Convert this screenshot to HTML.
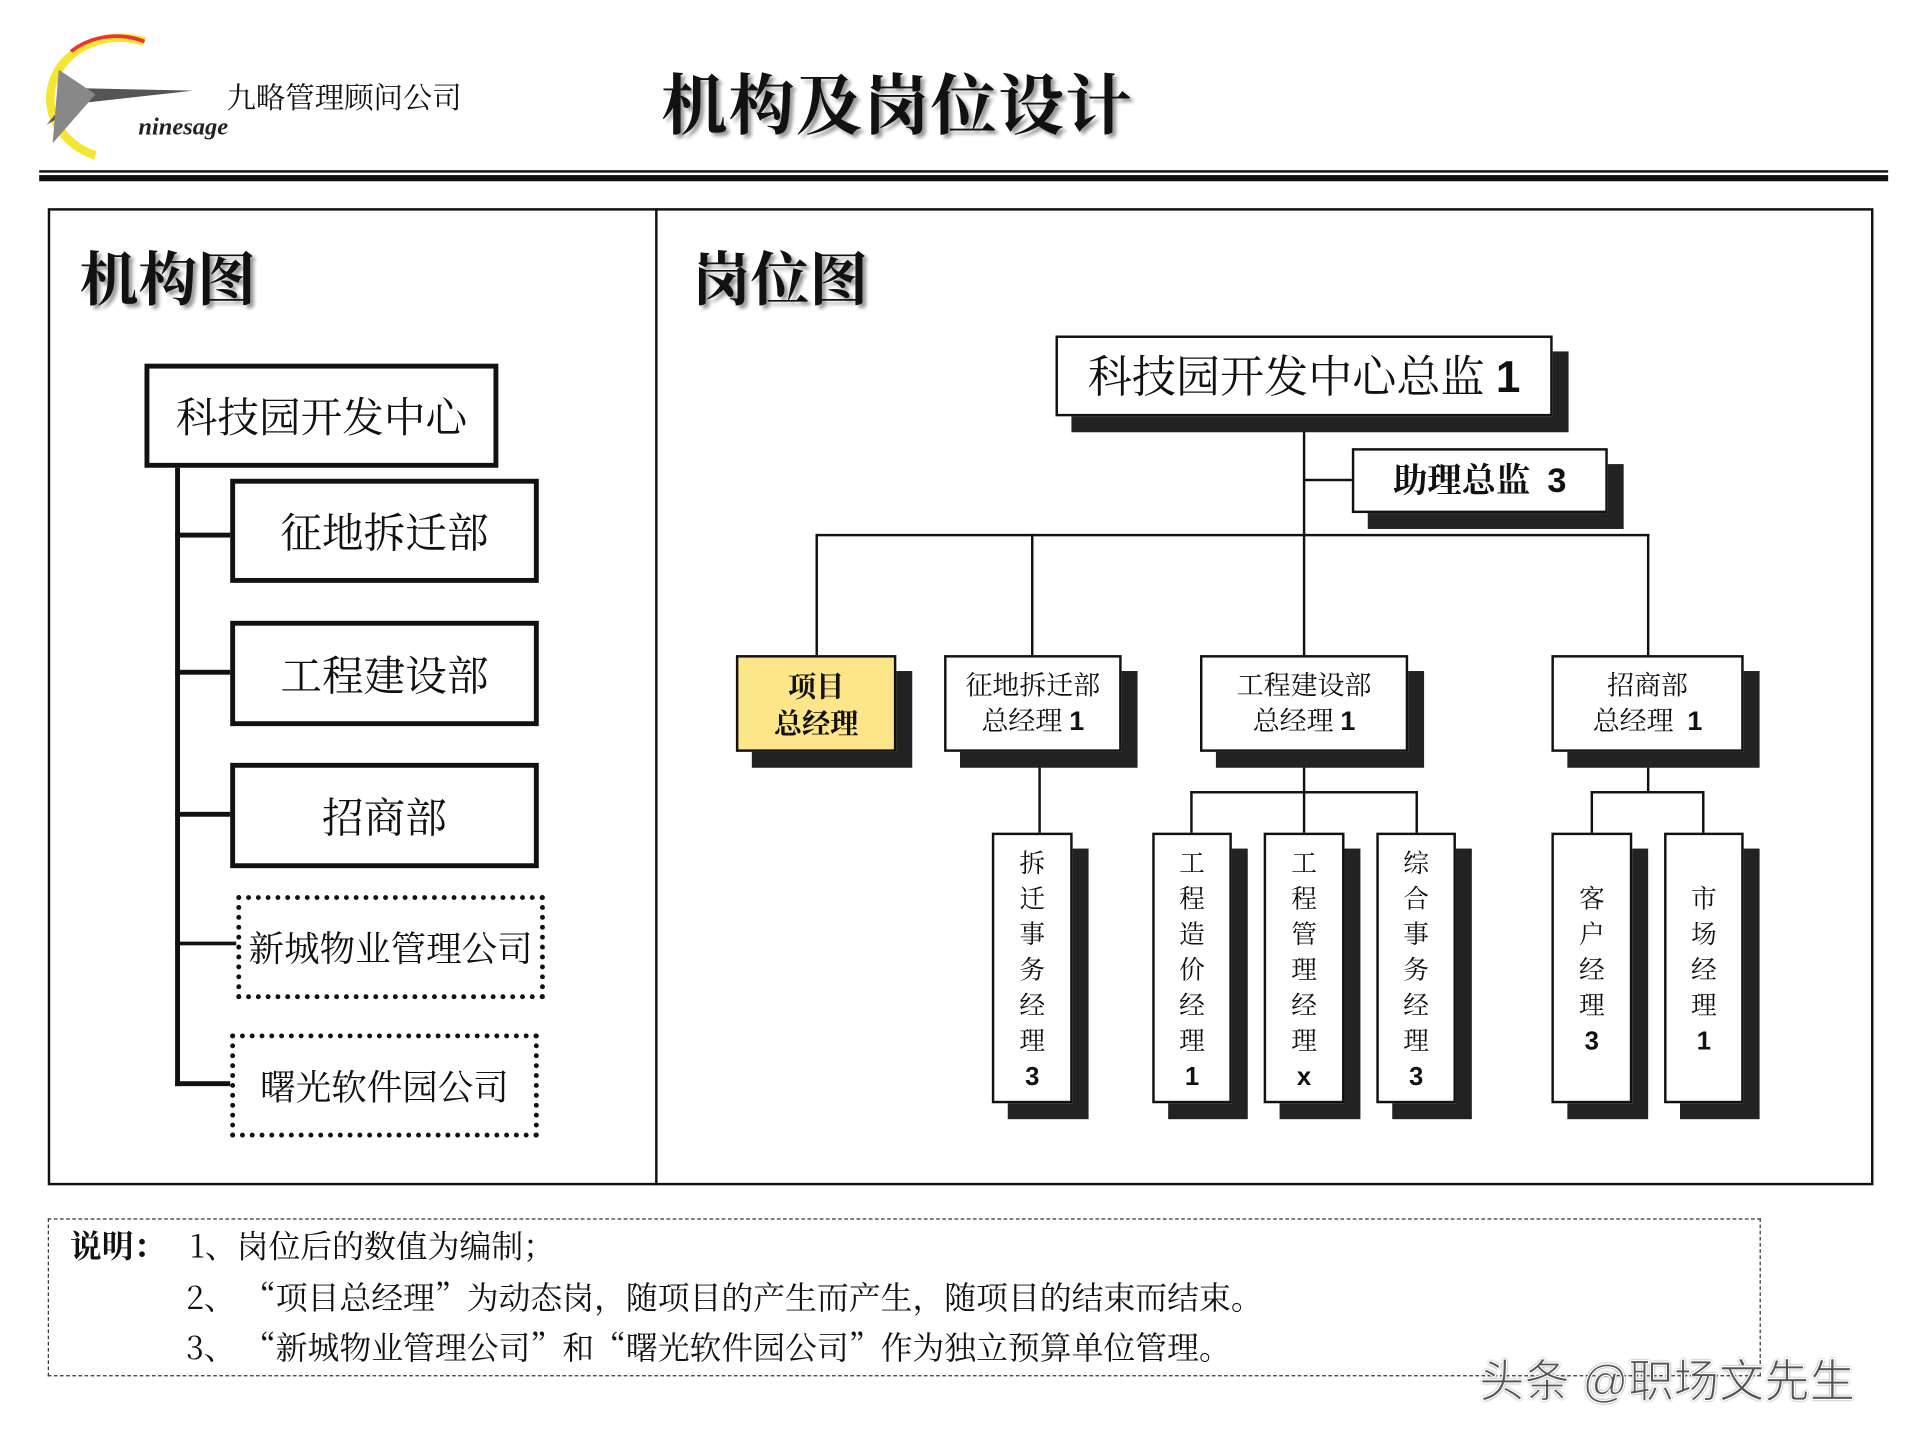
<!DOCTYPE html>
<html><head><meta charset="utf-8"><style>
html,body{margin:0;padding:0;background:#fff;width:1920px;height:1440px;overflow:hidden}
#w{position:absolute;left:0;top:0;width:1568px;height:1176px;transform:scale(1.22449);transform-origin:0 0;font-family:"Liberation Sans","Noto Sans CJK SC",sans-serif;color:#111}
.a{position:absolute;box-sizing:border-box}
.b{position:absolute;box-sizing:border-box;background:#fff;border:2px solid #111;display:flex;align-items:center;justify-content:center;text-align:center;font-family:"Noto Serif CJK SC","Noto Sans CJK SC",serif;line-height:1.3}
.s{position:absolute;background:#222}
.l{position:absolute;background:#111}
.v{position:absolute;box-sizing:border-box;background:#fff;border:2px solid #111;text-align:center;font-family:"Noto Serif CJK SC","Noto Sans CJK SC",serif;font-size:21px;line-height:29px;padding-top:8px}
.n{font-family:"Liberation Sans",sans-serif;font-weight:bold}
</style></head><body><div id="w">
<svg class="a" style="left:18px;top:22px" width="200" height="115" viewBox="0 0 200 115">
<path d="M100 12 A55 48 0 1 0 60 105" fill="none" stroke="#f3e000" stroke-width="7" opacity="0.8"/>
<path d="M100 12 A55 48 0 0 0 40 20" fill="none" stroke="#e33" stroke-width="3"/>
<path d="M20 80 L45 50 L140 52 L50 62 Z" fill="#555"/>
<path d="M30 35 L60 55 L25 95 Z" fill="#888"/>
<text x="95" y="88" font-family="Liberation Serif,serif" font-style="italic" font-weight="bold" font-size="20" fill="#222">ninesage</text>
</svg>
<div class="a" style="left:185px;top:60px;font-size:24px;font-family:'Noto Serif CJK SC',serif">九略管理顾问公司</div>
<div class="a" style="left:540px;top:44px;font-size:54px;font-weight:bold;font-family:'Noto Serif CJK SC',serif;text-shadow:3px 3px 3px #999;letter-spacing:1px">机构及岗位设计</div>
<div class="l" style="left:32px;top:139px;width:1510px;height:2px"></div>
<div class="l" style="left:32px;top:143px;width:1510px;height:5px"></div>
<div class="a" style="left:39px;top:170px;width:1491px;height:798px;border:2px solid #111"></div>
<div class="l" style="left:535px;top:170px;width:2px;height:798px"></div>
<div class="a" style="left:65px;top:190px;font-size:48px;font-weight:bold;font-family:'Noto Serif CJK SC',serif;text-shadow:3px 3px 3px #999">机构图</div>
<div class="a" style="left:565px;top:190px;font-size:48px;font-weight:bold;font-family:'Noto Serif CJK SC',serif;text-shadow:3px 3px 3px #999">岗位图</div>
<div class="l" style="left:143px;top:380px;width:4px;height:507px"></div>
<div class="l" style="left:143px;top:435px;width:46px;height:4px"></div>
<div class="l" style="left:143px;top:547px;width:46px;height:4px"></div>
<div class="l" style="left:143px;top:663px;width:46px;height:4px"></div>
<div class="l" style="left:143px;top:769px;width:50px;height:3px"></div>
<div class="l" style="left:143px;top:883px;width:46px;height:4px"></div>
<div class="b" style="left:118px;top:297px;width:289px;height:85px;border:4px solid #111;font-size:34px">科技园开发中心</div>
<div class="b" style="left:188px;top:391px;width:252px;height:85px;border:4px solid #111;font-size:34px">征地拆迁部</div>
<div class="b" style="left:188px;top:507px;width:252px;height:86px;border:4px solid #111;font-size:34px">工程建设部</div>
<div class="b" style="left:188px;top:623px;width:252px;height:86px;border:4px solid #111;font-size:34px">招商部</div>
<div class="b" style="left:193px;top:731px;width:252px;height:85px;border:4px dotted #111;font-size:29px">新城物业管理公司</div>
<div class="b" style="left:188px;top:844px;width:252px;height:85px;border:4px dotted #111;font-size:29px">曙光软件园公司</div>
<div class="l" style="left:1064px;top:339px;width:2px;height:98px"></div>
<div class="l" style="left:1065px;top:391px;width:40px;height:2px"></div>
<div class="l" style="left:666px;top:436px;width:681px;height:2px"></div>
<div class="l" style="left:666px;top:436px;width:2px;height:100px"></div>
<div class="l" style="left:842px;top:436px;width:2px;height:100px"></div>
<div class="l" style="left:1064px;top:436px;width:2px;height:100px"></div>
<div class="l" style="left:1345px;top:436px;width:2px;height:100px"></div>
<div class="l" style="left:848px;top:613px;width:2px;height:68px"></div>
<div class="l" style="left:1064px;top:613px;width:2px;height:68px"></div>
<div class="l" style="left:972px;top:646px;width:186px;height:2px"></div>
<div class="l" style="left:972px;top:646px;width:2px;height:35px"></div>
<div class="l" style="left:1156px;top:646px;width:2px;height:35px"></div>
<div class="l" style="left:1345px;top:613px;width:2px;height:35px"></div>
<div class="l" style="left:1299px;top:646px;width:93px;height:2px"></div>
<div class="l" style="left:1299px;top:646px;width:2px;height:35px"></div>
<div class="l" style="left:1390px;top:646px;width:2px;height:35px"></div>
<div class="s" style="left:875px;top:287px;width:406px;height:66px"></div>
<div class="b" style="left:862px;top:274px;width:406px;height:66px;font-size:36px"><span>科技园开发中心总监 <span class="n">1</span></span></div>
<div class="s" style="left:1117px;top:379px;width:209px;height:53px"></div>
<div class="b" style="left:1104px;top:366px;width:209px;height:53px;font-size:28px;font-weight:bold"><span>助理总监&nbsp;&nbsp;<span class="n">3</span></span></div>
<div class="s" style="left:614px;top:548px;width:131px;height:79px"></div>
<div class="b" style="left:601px;top:535px;width:131px;height:79px;background:#fde68a;font-size:23px;font-weight:bold"><span>项目<br>总经理</span></div>
<div class="s" style="left:784px;top:548px;width:145px;height:79px"></div>
<div class="b" style="left:771px;top:535px;width:145px;height:79px;font-size:22px"><span>征地拆迁部<br>总经理 <span class="n">1</span></span></div>
<div class="s" style="left:993px;top:548px;width:170px;height:79px"></div>
<div class="b" style="left:980px;top:535px;width:170px;height:79px;font-size:22px"><span>工程建设部<br>总经理 <span class="n">1</span></span></div>
<div class="s" style="left:1280px;top:548px;width:157px;height:79px"></div>
<div class="b" style="left:1267px;top:535px;width:157px;height:79px;font-size:22px"><span>招商部<br>总经理&nbsp;&nbsp;<span class="n">1</span></span></div>
<div class="s" style="left:823px;top:693px;width:66px;height:221px"></div>
<div class="v" style="left:810px;top:680px;width:66px;height:221px">拆<br>迁<br>事<br>务<br>经<br>理<br><span class="n">3</span></div>
<div class="s" style="left:954px;top:693px;width:65px;height:221px"></div>
<div class="v" style="left:941px;top:680px;width:65px;height:221px">工<br>程<br>造<br>价<br>经<br>理<br><span class="n">1</span></div>
<div class="s" style="left:1045px;top:693px;width:66px;height:221px"></div>
<div class="v" style="left:1032px;top:680px;width:66px;height:221px">工<br>程<br>管<br>理<br>经<br>理<br><span class="n">x</span></div>
<div class="s" style="left:1137px;top:693px;width:65px;height:221px"></div>
<div class="v" style="left:1124px;top:680px;width:65px;height:221px">综<br>合<br>事<br>务<br>经<br>理<br><span class="n">3</span></div>
<div class="s" style="left:1280px;top:693px;width:66px;height:221px"></div>
<div class="v" style="left:1267px;top:680px;width:66px;height:221px;padding-top:37px">客<br>户<br>经<br>理<br><span class="n">3</span></div>
<div class="s" style="left:1372px;top:693px;width:65px;height:221px"></div>
<div class="v" style="left:1359px;top:680px;width:65px;height:221px;padding-top:37px">市<br>场<br>经<br>理<br><span class="n">1</span></div>
<div class="a" style="left:39px;top:995px;width:1399px;height:129px;border:1.5px dashed #333"></div>
<div class="a" style="left:57px;top:996px;font-size:26px;font-weight:bold;font-family:'Noto Serif CJK SC',serif;line-height:42px">说明：</div>
<div class="a" style="left:155px;top:996px;font-size:26px;font-family:'Noto Serif CJK SC',serif;line-height:42px">1、岗位后的数值为编制；</div>
<div class="a" style="left:152px;top:1038px;font-size:26px;font-family:'Noto Serif CJK SC',serif;line-height:42px;white-space:nowrap">2、 “项目总经理”为动态岗，随项目的产生而产生，随项目的结束而结束。</div>
<div class="a" style="left:152px;top:1079px;font-size:26px;font-family:'Noto Serif CJK SC',serif;line-height:42px;white-space:nowrap">3、 “新城物业管理公司”和“曙光软件园公司”作为独立预算单位管理。</div>
<div class="a" style="left:1208px;top:1098px;font-size:37px;color:#555;-webkit-text-stroke:1px #fff;text-shadow:0 0 2px #333;white-space:nowrap">头条 @职场文先生</div>
</div></body></html>
